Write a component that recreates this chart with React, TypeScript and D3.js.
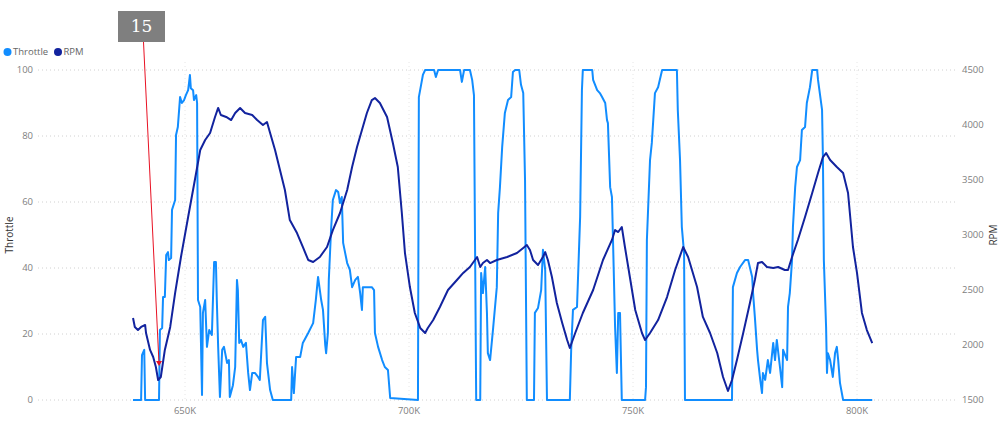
import React from "react";
import * as d3 from "d3";

// ---- data (x in thousands) ----
const throttleX = [638.4,640.2,640.4,640.9,641.1,644.2,644.4,644.9,645.1,645.5,645.8,646.2,646.4,646.9,647.1,647.8,648.0,648.4,648.9,649.3,649.8,650.2,650.7,650.9,651.1,651.3,651.8,652.0,652.5,652.7,652.9,653.4,653.8,654.0,654.5,654.9,655.4,656.0,656.5,656.9,657.1,657.4,657.8,658.3,658.7,659.4,659.8,660.0,660.7,661.2,661.6,661.8,662.1,662.5,663.0,663.6,664.1,664.5,665.0,665.6,666.3,666.7,667.4,667.9,668.3,669.0,669.6,673.7,673.9,674.3,674.8,675.7,676.3,677.5,678.6,679.2,679.7,680.4,680.8,681.3,681.5,681.9,682.1,682.6,683.0,683.7,684.2,684.6,685.0,685.3,686.2,686.8,687.3,688.0,688.6,689.1,689.5,689.7,691.7,692.2,692.4,693.1,694.0,694.6,695.3,695.8,702.0,702.2,702.7,703.1,703.6,705.6,706.0,706.5,711.4,711.8,712.3,713.6,714.1,714.5,715.0,715.9,716.1,716.5,717.0,717.4,717.6,718.1,718.8,719.6,719.9,720.3,720.8,721.4,722.1,722.8,723.2,723.7,724.6,725.0,725.5,725.9,726.3,727.9,728.1,728.8,729.5,729.9,730.4,730.8,735.9,736.2,736.6,737.5,738.2,738.6,738.8,740.9,741.1,742.0,742.6,743.1,743.8,744.2,744.4,744.9,745.3,745.5,746.0,746.4,746.7,747.1,747.5,752.7,752.9,753.1,753.8,754.2,754.9,755.6,756.5,759.8,760.0,760.5,760.9,761.4,761.6,772.1,772.3,773.2,773.9,775.0,775.7,776.6,776.8,777.2,777.7,777.9,778.4,778.8,779.0,779.5,780.1,780.6,781.3,781.7,782.1,782.8,783.3,783.5,784.4,784.6,785.0,785.5,785.7,786.2,786.6,787.3,787.7,788.4,788.8,789.5,790.0,791.1,791.3,792.2,792.4,792.6,793.1,793.3,793.5,794.0,794.6,795.1,795.5,795.8,796.2,796.9,803.4];
const throttleY = [0,0,13.6,15.2,0,0,21.2,21.8,31.2,31.2,43.9,44.8,42.4,43,57.6,60.6,80.3,82.7,91.8,90,90.9,92.4,93.9,96.1,98.5,94.5,93.9,90.9,92.4,90,30.3,28.2,1.5,26.4,30.3,16.1,21.2,19.7,41.8,41.8,30.3,16.1,0.9,15.2,16.1,11.2,12.1,0.9,4.5,10,36.4,33.3,17.3,18.2,16.1,17.3,8.2,3,8.2,8.2,7,6.1,24.2,25.2,11.2,3,0,0,10,2.1,13,13,17.3,20.3,23.3,30.3,37.3,30.3,27.3,16.7,14.2,20.3,36.4,51.5,60.6,63.6,63,59.7,61.5,47.6,41.5,39.4,34.2,36.4,37.3,32.4,27.3,34.2,34.2,33.3,20.3,16.1,12.1,10,9.1,0.6,0,91.8,95.5,98.5,100,100,97.9,100,100,96.4,100,100,97,92.4,0,0,38.5,32.4,40.3,26.4,14.2,12.1,22.1,34.2,56.7,64.5,76.7,87,90.9,91.8,99.4,100,100,95.5,93,66.7,0,0,26.4,27.9,33.3,45.5,39.4,0,0,15.2,27.3,28.2,55.5,93.9,100,100,97,93.9,93,91.8,90,84.8,83.9,64.5,61.5,50.6,22.1,8.2,26.4,26.4,0,0,3.9,48.5,72.7,77.9,93,94.8,100,100,87.9,72.7,52.4,44.5,0,0,34.2,38.5,40.3,42.4,42.4,37.3,32.4,25.2,15.2,12.1,6.1,2.1,8.2,6.1,12.1,8.2,17.3,12.1,18.2,10,3.9,15.2,12.1,28.2,32.4,42.4,52.4,64.5,70.6,72.7,81.8,82.7,90,94.8,100,100,97,87.9,72.7,42.4,22.1,8.2,14.2,12.1,7,14.2,16.1,12.1,5.2,0,0];

const rpmX = [638.4,638.8,639.5,640.2,641.1,641.3,642.2,642.9,643.5,644.0,644.6,645.5,646.7,647.8,649.1,650.7,652.2,653.4,654.5,655.6,656.7,657.4,658.0,659.2,660.3,661.2,662.3,663.4,665.0,666.1,667.4,668.3,669.0,670.1,671.2,672.3,673.4,675.0,676.3,677.5,678.6,680.1,681.7,683.0,684.6,686.2,687.3,688.4,689.5,690.6,691.7,692.4,693.5,695.1,696.4,697.5,698.4,699.1,700.2,701.3,702.5,703.6,704.2,705.4,706.9,708.7,710.7,712.1,713.6,715.2,715.9,716.5,717.4,718.1,719.6,721.9,724.1,725.5,726.3,727.0,727.7,728.8,729.9,730.4,731.0,731.9,733.0,734.2,735.3,735.9,737.1,738.8,741.1,743.3,745.3,746.0,746.7,747.5,748.2,749.3,750.5,752.0,752.7,753.8,755.6,757.6,759.4,761.2,762.3,764.3,765.6,767.2,768.8,770.1,771.2,772.1,773.2,774.6,776.1,777.2,777.9,778.8,779.9,781.3,782.4,783.9,784.6,785.5,786.8,788.4,790.0,791.3,792.4,793.1,794.0,795.5,796.9,798.0,799.1,800.0,801.1,802.2,803.4];
const rpmY = [2245,2164,2136,2164,2182,2109,1955,1891,1800,1682,1709,1955,2164,2473,2800,3164,3500,3773,3864,3927,4073,4155,4091,4073,4045,4109,4155,4109,4091,4045,4000,4027,3927,3773,3591,3409,3136,3018,2891,2773,2755,2800,2891,3045,3200,3409,3618,3800,3955,4109,4227,4245,4200,4073,3836,3618,3200,2836,2527,2291,2155,2109,2155,2227,2345,2500,2591,2655,2709,2800,2709,2745,2773,2745,2773,2800,2836,2882,2909,2864,2773,2727,2800,2845,2773,2618,2382,2200,2045,1973,2109,2291,2500,2773,2955,3045,3027,3073,2891,2618,2318,2109,2045,2109,2227,2436,2682,2891,2800,2527,2255,2109,1927,1709,1582,1682,1864,2109,2382,2591,2745,2755,2709,2700,2709,2682,2682,2800,2955,3164,3382,3564,3709,3745,3682,3618,3564,3382,2891,2655,2291,2136,2018];

const xTicks = [650, 700, 750, 800];
const leftTicks = [0, 20, 40, 60, 80, 100];
const rightTicks = [1500, 2000, 2500, 3000, 3500, 4000, 4500];
const seriesNames = ["Throttle", "RPM"];
const seriesColors = ["#118DFF", "#12239E"];
const annotation = { x: 644.2, throttle: 10.9, label: "15" };

const W = 1000, H = 421;
const plotLeft = 38, plotRight = 955, plotTop = 70, plotBottom = 400;

export default function App() {
  // x: 650K at 185px, 800K at 857px
  const pxPerK = (857 - 185) / 150;
  const x = d3.scaleLinear()
    .domain([650 + (plotLeft - 185) / pxPerK, 650 + (plotRight - 185) / pxPerK])
    .range([plotLeft, plotRight]);
  const yL = d3.scaleLinear().domain([0, 100]).range([plotBottom, plotTop]);
  const yR = d3.scaleLinear().domain([1500, 4500]).range([plotBottom, plotTop]);

  const thrData = throttleX.map((v, i) => [v, throttleY[i]] as [number, number]);
  const rpmData = rpmX.map((v, i) => [v, rpmY[i]] as [number, number]);
  const thrLine = d3.line<[number, number]>().x(d => x(d[0])).y(d => yL(d[1]));
  const rpmLine = d3.line<[number, number]>().x(d => x(d[0])).y(d => yR(d[1]));

  const font = "'Segoe UI', 'Open Sans', sans-serif";
  const ax = x(annotation.x), ay = yL(annotation.throttle);
  const boxW = 47, boxH = 31, boxX = 118, boxY = 11;

  return (
    <svg width={W} height={H} style={{ position: "absolute", left: 0, top: 0, background: "#fff" }} fontFamily={font}>
      {/* gridlines */}
      {leftTicks.map(t => (
        <line key={"h" + t} x1={plotLeft} x2={plotRight} y1={yL(t)} y2={yL(t)} stroke="#d0d0d0" strokeWidth={1} strokeDasharray="1,3" />
      ))}
      {xTicks.map(t => (
        <line key={"v" + t} x1={x(t)} x2={x(t)} y1={plotTop - 8} y2={plotBottom} stroke="#e6e6e6" strokeWidth={1} strokeDasharray="1,3" />
      ))}
      {/* left tick labels */}
      {leftTicks.map(t => (
        <text key={"l" + t} x={33} y={yL(t)} dy="0.35em" textAnchor="end" fontSize={9.5} fill="#808080">{t}</text>
      ))}
      {/* right tick labels */}
      {rightTicks.map(t => (
        <text key={"r" + t} x={962} y={yR(t)} dy="0.35em" textAnchor="start" fontSize={9.5} fill="#808080">{t}</text>
      ))}
      {/* x tick labels */}
      {xTicks.map(t => (
        <text key={"x" + t} x={x(t)} y={414} textAnchor="middle" fontSize={9.5} fill="#808080">{t}K</text>
      ))}
      {/* axis titles */}
      <text transform={`translate(13,${(plotTop + plotBottom) / 2}) rotate(-90)`} textAnchor="middle" fontSize={10} fill="#333">Throttle</text>
      <text transform={`translate(997,${(plotTop + plotBottom) / 2}) rotate(-90)`} textAnchor="middle" fontSize={10} fill="#333">RPM</text>
      {/* legend */}
      <circle cx={7.5} cy={52} r={4} fill={seriesColors[0]} />
      <text x={13} y={52} dy="0.35em" fontSize={9.5} fill="#666">{seriesNames[0]}</text>
      <circle cx={58} cy={52} r={4} fill={seriesColors[1]} />
      <text x={63.5} y={52} dy="0.35em" fontSize={9.5} fill="#666">{seriesNames[1]}</text>
      {/* series */}
      <path d={thrLine(thrData) || ""} fill="none" stroke={seriesColors[0]} strokeWidth={2} strokeLinejoin="round" />
      <path d={rpmLine(rpmData) || ""} fill="none" stroke={seriesColors[1]} strokeWidth={2} strokeLinejoin="round" />
      {/* annotation */}
      <line x1={boxX + boxW / 2 + 2} y1={boxY + boxH} x2={ax} y2={ay} stroke="#E81123" strokeWidth={1} />
      <path d={`M${ax - 3},${ay - 3} L${ax + 3},${ay - 3} L${ax},${ay + 2} Z`} fill="#E81123" />
      <rect x={boxX} y={boxY} width={boxW} height={boxH} fill="#7f7f7f" />
      <text x={boxX + boxW / 2} y={boxY + boxH / 2} dy="0.35em" textAnchor="middle" fontSize={17} fill="#fff" fontFamily="'DejaVu Serif', 'Liberation Serif', serif">{annotation.label}</text>
    </svg>
  );
}
